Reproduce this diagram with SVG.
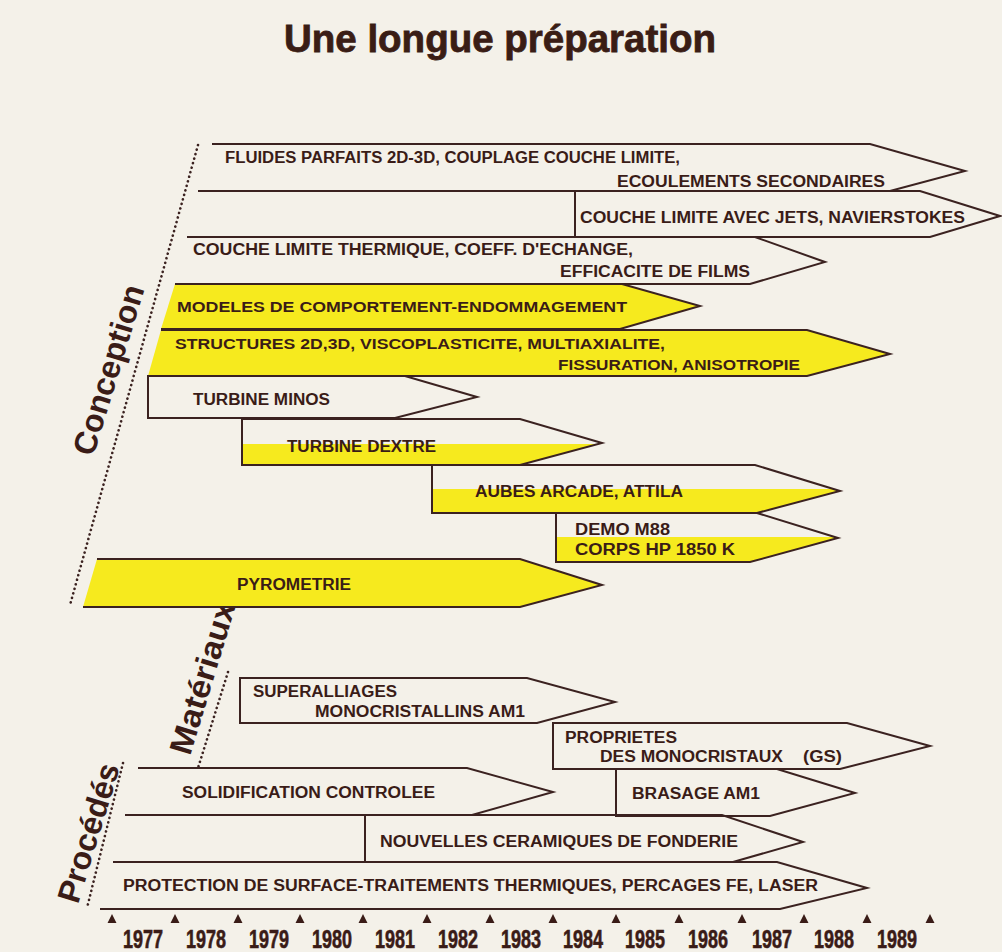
<svg xmlns="http://www.w3.org/2000/svg" width="1002" height="952" viewBox="0 0 1002 952">
<style>
.bg{fill:#f4f1e9}
.ln{fill:none;stroke:#3b2220;stroke-width:2;stroke-linejoin:miter}
.yf{fill:#f6ea1e;stroke:none}
.t{font-family:"Liberation Sans",Arial,sans-serif;font-weight:bold;font-size:16px;fill:#3a1c17}
.ts{font-size:14px}
.sec{font-family:"Liberation Sans",Arial,sans-serif;font-weight:bold;font-size:32px;fill:#3a1c17;text-anchor:middle}
.dot{fill:none;stroke:#3b2220;stroke-width:2.6;stroke-linecap:round;stroke-dasharray:0.1 4.6}
.yr{font-family:"Liberation Sans",Arial,sans-serif;font-weight:bold;font-size:25px;fill:#3a1c17;stroke:#3a1c17;stroke-width:0.6}
.tri{fill:#3a1c17}
</style>
<rect class="bg" x="0" y="0" width="1002" height="952"/>
<text x="500" y="52" text-anchor="middle" textLength="432" lengthAdjust="spacingAndGlyphs" style="font-family:'Liberation Sans',Arial,sans-serif;font-weight:bold;font-size:38px;fill:#3a1d15;stroke:#3a1d15;stroke-width:0.8">Une longue préparation</text>

<g id="guides">
<path class="dot" d="M198,145 L70,605"/>
<path class="dot" d="M228,672 L198,768"/>
<path class="dot" d="M123,763 L87,908"/>
</g>

<g id="sections">
<text class="sec" transform="translate(119,373) rotate(-73)" textLength="176" lengthAdjust="spacingAndGlyphs">Conception</text>
<text class="sec" transform="translate(213,681) rotate(-73)" textLength="158" lengthAdjust="spacingAndGlyphs">Matériaux</text>
<text class="sec" transform="translate(99,836) rotate(-73)" textLength="144" lengthAdjust="spacingAndGlyphs">Procédés</text>
</g>

<g id="connectors"></g>

<g id="n-fluides">
<path class="ln" d="M212,144 L870,144 L965,171 L890,191 L198,191"/>
<text class="t" x="225" y="163" textLength="455" lengthAdjust="spacingAndGlyphs">FLUIDES PARFAITS 2D-3D, COUPLAGE COUCHE LIMITE,</text>
<text class="t" x="617" y="187" textLength="268" lengthAdjust="spacingAndGlyphs">ECOULEMENTS SECONDAIRES</text>
</g>
<g id="n-jets">
<path class="ln" d="M198,191 L920,191 L1000,216 L930,237 L187,237 M575,191 V237"/>
<text class="t" x="580" y="223" textLength="385" lengthAdjust="spacingAndGlyphs">COUCHE LIMITE AVEC JETS, NAVIERSTOKES</text>
</g>
<g id="n-thermique">
<path class="ln" d="M187,237 L755,237 L825,262 L750,284 L175,284"/>
<text class="t" x="193" y="255" textLength="440" lengthAdjust="spacingAndGlyphs">COUCHE LIMITE THERMIQUE, COEFF. D'ECHANGE,</text>
<text class="t" x="560" y="277" textLength="190" lengthAdjust="spacingAndGlyphs">EFFICACITE DE FILMS</text>
</g>
<g id="n-modeles">
<path class="yf" d="M175,284 L622,284 L700,306 L620,329 L161,329 Z"/>
<path class="ln" d="M175,284 L622,284 L700,306 L620,329 L161,329"/>
<text class="t ts" x="177" y="312" textLength="450" lengthAdjust="spacingAndGlyphs">MODELES DE COMPORTEMENT-ENDOMMAGEMENT</text>
</g>
<g id="n-structures">
<path class="yf" d="M161,330 L807,330 L890,354 L807,376 L148,376 Z"/>
<path class="ln" d="M161,330 L807,330 L890,354 L807,376 L148,376"/>
<text class="t ts" x="175" y="349" textLength="490" lengthAdjust="spacingAndGlyphs">STRUCTURES 2D,3D, VISCOPLASTICITE, MULTIAXIALITE,</text>
<text class="t ts" x="558" y="370" textLength="242" lengthAdjust="spacingAndGlyphs">FISSURATION, ANISOTROPIE</text>
</g>
<g id="n-minos">
<path class="ln" d="M148,376 L405,376 L477,397 L395,418 L148,418 Z"/>
<text class="t" x="193" y="405" textLength="137" lengthAdjust="spacingAndGlyphs">TURBINE MINOS</text>
</g>
<g id="n-dextre">
<path class="yf" d="M242,444 L599,444 L520,465 L242,465 Z"/>
<path class="ln" d="M242,419 L520,419 L602,443 L520,465 L242,465 Z"/>
<text class="t" x="287" y="452" textLength="149" lengthAdjust="spacingAndGlyphs">TURBINE DEXTRE</text>
</g>
<g id="n-aubes">
<path class="yf" d="M432,489 L833,489 L840,491 L757,513 L432,513 Z"/>
<path class="ln" d="M432,465 L755,465 L840,491 L757,513 L432,513 Z"/>
<text class="t" x="475" y="497" textLength="208" lengthAdjust="spacingAndGlyphs">AUBES ARCADE, ATTILA</text>
</g>
<g id="n-demo">
<path class="yf" d="M556,537 L835,537 L838,538 L750,562 L556,562 Z"/>
<path class="ln" d="M556,513 L757,513 L838,538 L750,562 L556,562 Z"/>
<text class="t" x="575" y="535" textLength="95" lengthAdjust="spacingAndGlyphs">DEMO M88</text>
<text class="t" x="575" y="555" textLength="160" lengthAdjust="spacingAndGlyphs">CORPS HP 1850 K</text>
</g>
<g id="n-pyrometrie">
<path class="yf" d="M97,559 L520,559 L602,585 L520,607 L83,607 Z"/>
<path class="ln" d="M97,559 L520,559 L602,585 L520,607 L83,607"/>
<text class="t" x="237" y="590" textLength="114" lengthAdjust="spacingAndGlyphs">PYROMETRIE</text>
</g>

<g id="n-superalliages">
<path class="ln" d="M240,678 L527,678 L615,702 L537,723 L240,723 Z"/>
<text class="t" x="253" y="697" textLength="144" lengthAdjust="spacingAndGlyphs">SUPERALLIAGES</text>
<text class="t" x="315" y="717" textLength="210" lengthAdjust="spacingAndGlyphs">MONOCRISTALLINS AM1</text>
</g>
<g id="n-proprietes">
<path class="ln" d="M553,723 L847,723 L930,746 L840,769 L553,769 Z"/>
<text class="t" x="565" y="743" textLength="112" lengthAdjust="spacingAndGlyphs">PROPRIETES</text>
<text class="t" x="600" y="762" textLength="183" lengthAdjust="spacingAndGlyphs">DES MONOCRISTAUX</text>
<text class="t" x="803" y="762" textLength="39" lengthAdjust="spacingAndGlyphs">(GS)</text>
</g>
<g id="n-solidification">
<path class="ln" d="M138,768 L467,768 L553,792 L472,815 L125,815"/>
<text class="t" x="182" y="798" textLength="253" lengthAdjust="spacingAndGlyphs">SOLIDIFICATION CONTROLEE</text>
</g>
<g id="n-brasage">
<path class="ln" d="M616,769 L777,769 L855,793 L770,816 L616,816 Z"/>
<text class="t" x="632" y="799" textLength="128" lengthAdjust="spacingAndGlyphs">BRASAGE AM1</text>
</g>
<g id="n-ceramiques">
<path class="ln" d="M125,815 L722,815 L803,842 L733,862 L113,862 M365,815 V862"/>
<text class="t" x="380" y="847" textLength="358" lengthAdjust="spacingAndGlyphs">NOUVELLES CERAMIQUES DE FONDERIE</text>
</g>
<g id="n-protection">
<path class="ln" d="M113,862 L777,862 L867,888 L780,909 L100,909"/>
<text class="t" x="123" y="891" textLength="695" lengthAdjust="spacingAndGlyphs">PROTECTION DE SURFACE-TRAITEMENTS THERMIQUES, PERCAGES FE, LASER</text>
</g>

<g id="timeline">
<path class="tri" d="M112,914 l4.5,9 h-9 Z M175,914 l4.5,9 h-9 Z M238,914 l4.5,9 h-9 Z M300,914 l4.5,9 h-9 Z M363,914 l4.5,9 h-9 Z M427,914 l4.5,9 h-9 Z M490,914 l4.5,9 h-9 Z M553,914 l4.5,9 h-9 Z M616,914 l4.5,9 h-9 Z M679,914 l4.5,9 h-9 Z M742,914 l4.5,9 h-9 Z M804,914 l4.5,9 h-9 Z M867,914 l4.5,9 h-9 Z M930,914 l4.5,9 h-9 Z"/>
<text class="yr" x="123" y="948" textLength="40" lengthAdjust="spacingAndGlyphs">1977</text>
<text class="yr" x="186" y="948" textLength="40" lengthAdjust="spacingAndGlyphs">1978</text>
<text class="yr" x="249" y="948" textLength="40" lengthAdjust="spacingAndGlyphs">1979</text>
<text class="yr" x="312" y="948" textLength="40" lengthAdjust="spacingAndGlyphs">1980</text>
<text class="yr" x="375" y="948" textLength="40" lengthAdjust="spacingAndGlyphs">1981</text>
<text class="yr" x="438" y="948" textLength="40" lengthAdjust="spacingAndGlyphs">1982</text>
<text class="yr" x="501" y="948" textLength="40" lengthAdjust="spacingAndGlyphs">1983</text>
<text class="yr" x="563" y="948" textLength="40" lengthAdjust="spacingAndGlyphs">1984</text>
<text class="yr" x="625" y="948" textLength="40" lengthAdjust="spacingAndGlyphs">1985</text>
<text class="yr" x="688" y="948" textLength="40" lengthAdjust="spacingAndGlyphs">1986</text>
<text class="yr" x="752" y="948" textLength="40" lengthAdjust="spacingAndGlyphs">1987</text>
<text class="yr" x="814" y="948" textLength="40" lengthAdjust="spacingAndGlyphs">1988</text>
<text class="yr" x="877" y="948" textLength="40" lengthAdjust="spacingAndGlyphs">1989</text>
</g>
</svg>
